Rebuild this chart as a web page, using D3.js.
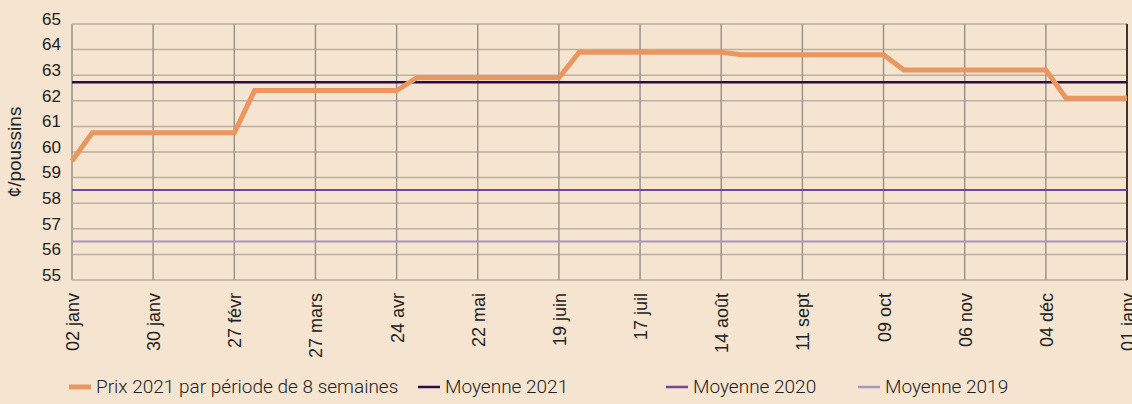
<!DOCTYPE html>
<html>
<head>
<meta charset="utf-8">
<script src="https://cdn.jsdelivr.net/npm/d3@7"></script>
<style>
  body { margin: 0; background: #f5e4cf; }
  svg { display: block; }
</style>
</head>
<body>
<div id="viz"></div>
<script>
// ticks every 4 weeks, 02 janv 2021 -> 01 janv 2022
var tickLabels = ["02 janv", "30 janv", "27 févr", "27 mars", "24 avr", "22 mai", "19 juin",
    "17 juil", "14 août", "11 sept", "09 oct", "06 nov", "04 déc", "01 janv"];

// price line (week index from 02 janv, ¢/poussin)
var priceWeeks = [0, 1, 8, 9, 16, 17, 24, 25, 32, 33, 40, 41, 48, 49, 52];
var priceValues = [59.65, 60.75, 60.75, 62.4, 62.4, 62.9, 62.9, 63.9, 63.9, 63.8, 63.8, 63.2, 63.2, 62.1, 62.1];

var avgNames = ["Moyenne 2021", "Moyenne 2020", "Moyenne 2019"];
var avgValues = [62.72, 58.52, 56.5];
var avgColors = ["#2c0b4b", "#754597", "#a696c6"];

var yTicks = [55, 56, 57, 58, 59, 60, 61, 62, 63, 64, 65];

var W = 1132, H = 404;
var margin = {left: 72, right: 5, top: 24, bottom: 124};
var font = "'Liberation Sans', Arial, sans-serif";

var svg = d3.select("#viz")
    .append("svg")
    .attr("width", W)
    .attr("height", H);

svg.append("rect").attr("width", W).attr("height", H).attr("fill", "#f5e4cf");

var x = d3.scaleLinear().domain([0, 52]).range([margin.left, W - margin.right]);
var y = d3.scaleLinear().domain([55, 65]).range([H - margin.bottom, margin.top]);

// horizontal grid
svg.append("g")
    .selectAll("line")
    .data(yTicks)
    .enter()
    .append("line")
    .attr("x1", x(0))
    .attr("x2", x(52))
    .attr("y1", function(d){ return y(d); })
    .attr("y2", function(d){ return y(d); })
    .attr("stroke", "#b9afa3")
    .attr("stroke-width", 1.5);

// vertical grid
svg.append("g")
    .selectAll("line")
    .data(tickLabels)
    .enter()
    .append("line")
    .attr("x1", function(d, i){ return x(i * 4); })
    .attr("x2", function(d, i){ return x(i * 4); })
    .attr("y1", y(65))
    .attr("y2", y(55))
    .attr("stroke", function(d, i){ return i == 13 ? "#3a3530" : "#9a948d"; })
    .attr("stroke-width", function(d, i){ return i == 13 ? 2 : 1.5; });

// y labels
svg.append("g")
    .selectAll("text")
    .data(yTicks)
    .enter()
    .append("text")
    .attr("x", 61)
    .attr("y", function(d){ return y(d); })
    .attr("dy", "0.05em")
    .attr("text-anchor", "end")
    .attr("font-family", font)
    .attr("font-size", 17)
    .attr("fill", "#222")
    .text(function(d){ return d; });

svg.append("text")
    .attr("transform", "translate(21," + 152 + ") rotate(-90)")
    .attr("text-anchor", "middle")
    .attr("font-family", font)
    .attr("font-size", 19)
    .attr("fill", "#222")
    .text("¢/poussins");

// x labels
svg.append("g")
    .selectAll("text")
    .data(tickLabels)
    .enter()
    .append("text")
    .attr("transform", function(d, i){ return "translate(" + (x(i * 4) + 7) + ",293) rotate(-90)"; })
    .attr("text-anchor", "end")
    .attr("font-family", font)
    .attr("font-size", 18)
    .attr("fill", "#222")
    .text(function(d){ return d; });

// average lines
svg.append("g")
    .selectAll("line")
    .data(avgValues)
    .enter()
    .append("line")
    .attr("x1", x(0))
    .attr("x2", x(52))
    .attr("y1", function(d){ return y(d); })
    .attr("y2", function(d){ return y(d); })
    .attr("stroke", function(d, i){ return avgColors[i]; })
    .attr("stroke-width", function(d, i){ return i == 0 ? 2.5 : 2; });

// price line
var line = d3.line()
    .x(function(d){ return x(d[0]); })
    .y(function(d){ return y(d[1]); });

svg.append("path")
    .datum(d3.zip(priceWeeks, priceValues))
    .attr("d", line)
    .attr("fill", "none")
    .attr("stroke", "#e99661")
    .attr("stroke-width", 5)
    .attr("stroke-linejoin", "miter");

// legend
var legendItems = [
    {name: "Prix 2021 par période de 8 semaines", color: "#e99661", w: 5, x: 69},
    {name: avgNames[0], color: avgColors[0], w: 2.5, x: 418},
    {name: avgNames[1], color: avgColors[1], w: 2.5, x: 666},
    {name: avgNames[2], color: avgColors[2], w: 2.5, x: 858}
];

var lg = svg.append("g")
    .selectAll("g")
    .data(legendItems)
    .enter()
    .append("g")
    .attr("transform", function(d){ return "translate(" + d.x + ",393)"; });
lg.append("line")
    .attr("x1", 0)
    .attr("x2", 22)
    .attr("y1", -6)
    .attr("y2", -6)
    .attr("stroke", function(d){ return d.color; })
    .attr("stroke-width", function(d){ return d.w; });
lg.append("text")
    .attr("x", 27)
    .attr("font-family", "Roboto, sans-serif")
    .attr("font-weight", 300)
    .attr("font-size", 19)
    .attr("fill", "#222")
    .text(function(d){ return d.name; });
</script>
</body>
</html>
